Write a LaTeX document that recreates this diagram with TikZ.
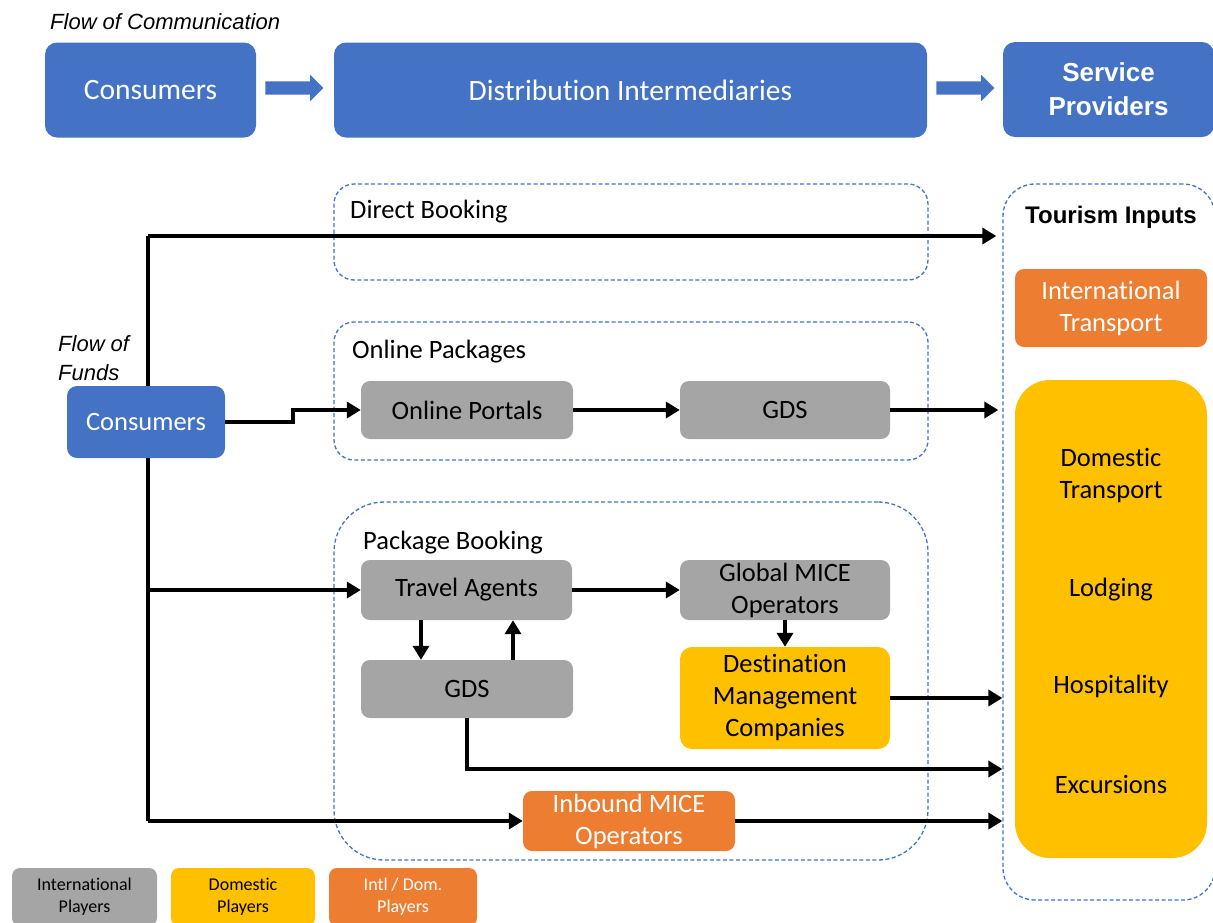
\documentclass[tikz,border=0pt]{standalone}
\usepackage{fontspec}
\setmainfont{Carlito}[Ligatures=NoCommon]
\newfontfamily\arialf{Liberation Sans}
\usetikzlibrary{arrows.meta,shapes.arrows}
\definecolor{cblue}{HTML}{4472C4}
\definecolor{cgray}{HTML}{A5A5A5}
\definecolor{cyel}{HTML}{FFC000}
\definecolor{corange}{HTML}{ED7D31}
\begin{document}
\begin{tikzpicture}[x=1pt,y=-1pt,
  box/.style={rounded corners=9pt, inner sep=0pt, align=center, draw=none,
     font=\fontsize{26.5}{32}\selectfont},
  bluebox/.style={box, fill=cblue, text=white, rounded corners=12pt},
  graybox/.style={box, fill=cgray, text=black},
  yelbox/.style={box, fill=cyel, text=black},
  orbox/.style={box, fill=corange, text=white},
  legbox/.style={box, font=\fontsize{18}{22}\selectfont, rounded corners=8pt},
  region/.style={draw=cblue, dash pattern=on 4pt off 2.5pt, line width=1.3pt, inner sep=0pt},
  fat/.style={single arrow, fill=cblue, draw=none, inner sep=6.5pt,
     single arrow head extend=6.5pt, minimum height=58pt},
  conn/.style={line width=4.5pt, black, -{Triangle[length=14pt,width=16pt]}},
  line/.style={line width=4.5pt, black},
  ital/.style={font=\arialf\itshape\fontsize{22}{29}\selectfont, inner sep=0pt},
  lbl/.style={font=\fontsize{26.5}{32}\selectfont, inner sep=0pt, anchor=west},
  boldlbl/.style={font=\arialf\bfseries\fontsize{24}{28}\selectfont, inner sep=0pt},
  txt/.style={font=\fontsize{26.5}{32}\selectfont, align=center, inner sep=0pt}
]
\useasboundingbox (0,0) rectangle (1213,922);

% ---- flow of communication
\node[ital, anchor=west] (foc) at (50,22) {Flow of Communication};
\node[bluebox, minimum width=211pt, minimum height=95pt, font=\fontsize{29.5}{34}\selectfont] (c1) at (150.5,90) {Consumers};
\node[bluebox, minimum width=593pt, minimum height=95pt, font=\fontsize{29.5}{34}\selectfont] (di) at (630.5,90) {Distribution Intermediaries};
\node[bluebox, minimum width=211pt, minimum height=95pt, font=\arialf\bfseries\fontsize{26}{34}\selectfont] (sp) at (1108.5,89.5) {Service\\Providers};
\node[fat] (fa1) at (291,88) {};
\node[fat] (fa2) at (962,88) {};

% ---- regions
\node[region, rounded corners=20pt, minimum width=594pt, minimum height=96pt] (db) at (631,232) {};
\node[region, rounded corners=20pt, minimum width=594pt, minimum height=138pt] (olp) at (631,391) {};
\node[region, rounded corners=50pt, minimum width=594pt, minimum height=358pt] (pb) at (631,681) {};
\node[region, rounded corners=32pt, minimum width=212pt, minimum height=716pt] (ti) at (1109,542) {};

\node[lbl] (dbl) at (350,212) {Direct Booking};
\node[lbl] (olpl) at (352,352) {Online Packages};
\node[lbl] (pbl) at (363,543) {Package Booking};
\node[boldlbl] (til) at (1111,217) {Tourism Inputs};

% ---- tourism inputs
\node[orbox, minimum width=192pt, minimum height=78pt] (it) at (1111,308) {International\\Transport};
\node[yelbox, rounded corners=35pt, minimum width=192pt, minimum height=478pt] (yb) at (1111,619) {};
\node[txt] (dt) at (1111,476) {Domestic\\Transport};
\node[txt] (lod) at (1111,590) {Lodging};
\node[txt] (hos) at (1111,686) {Hospitality};
\node[txt] (exc) at (1111,784) {Excursions};

% ---- flow of funds
\node[ital, anchor=west, align=left] (fof) at (58,358) {Flow of\\Funds};
\node[bluebox, rounded corners=10pt, minimum width=158pt, minimum height=72pt] (c2) at (146,422) {Consumers};

\node[graybox, minimum width=212pt, minimum height=58pt] (op) at (467,410) {Online Portals};
\node[graybox, minimum width=210pt, minimum height=58pt] (gds1) at (785,410) {GDS};
\node[graybox, minimum width=211pt, minimum height=60pt] (ta) at (466.5,590) {Travel Agents};
\node[graybox, minimum width=210pt, minimum height=60pt] (gm) at (785,590) {Global MICE\\Operators};
\node[graybox, minimum width=212pt, minimum height=58pt] (gds2) at (467,689) {GDS};
\node[yelbox, minimum width=210pt, minimum height=102pt, rounded corners=12pt] (dmc) at (785,698) {Destination\\Management\\Companies};
\node[orbox, minimum width=212pt, minimum height=60pt] (im) at (629,821) {Inbound MICE\\Operators};

% ---- legend
\node[legbox, fill=cgray, text=black, minimum width=145pt, minimum height=58pt] (l1) at (84.5,897) {International\\Players};
\node[legbox, fill=cyel, text=black, minimum width=144pt, minimum height=58pt] (l2) at (243,897) {Domestic\\Players};
\node[legbox, fill=corange, text=white, minimum width=148pt, minimum height=58pt] (l3) at (403,897) {Intl / Dom.\\Players};

% ---- connectors
\coordinate (tt) at (148,236);
\coordinate (tb) at (148,821);
\draw[line] (c2.north -| tt) -- (tt);
\draw[line] (c2.south -| tt) -- (tb);
\draw[conn, shorten >=6pt] (tt) -- (ti.west |- tt);
\draw[conn] (c2.east) -- ++(68,0) |- (op.west);
\draw[conn] (op.east) -- (gds1.west);
\draw[conn, shorten >=4pt] (gds1.east) -- (ti.west |- gds1.east);
\draw[conn] (tt |- ta.west) -- (ta.west);
\draw[conn] (ta.east) -- (gm.west);
\draw[conn] (ta.south -| 421,0) -- (gds2.north -| 421,0);
\draw[conn] (gds2.north -| 513,0) -- (ta.south -| 513,0);
\draw[conn] (gm.south) -- (dmc.north);
\draw[conn] (dmc.east) -- (ti.west |- dmc.east);
\draw[conn] (gds2.south) |- (ti.west |- 0,769);
\draw[conn] (tb) -- (im.west);
\draw[conn] (im.east) -- (ti.west |- im.east);
\end{tikzpicture}
\end{document}
